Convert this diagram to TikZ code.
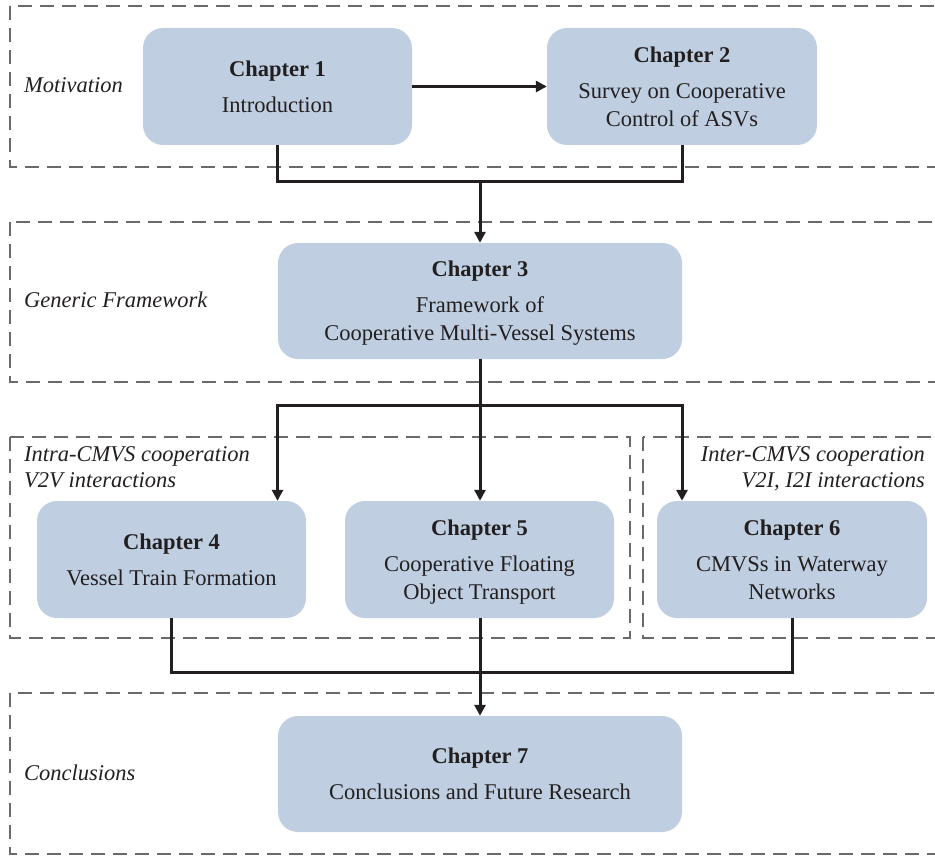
\documentclass[tikz,border=0pt]{standalone}
\usepackage{fontspec}
\setmainfont{Liberation Serif}
\usetikzlibrary{arrows.meta}
\definecolor{boxfill}{HTML}{BFCFE1}
\definecolor{ink}{HTML}{231F20}
\definecolor{dashgray}{HTML}{6A6A6A}
\begin{document}
\begin{tikzpicture}[x=1pt,y=-1pt,
  every node/.style={text=ink, font=\fontsize{22.5}{28}\selectfont},
  chapbox/.style={fill=boxfill, draw=none, rounded corners=20pt, align=center,
    inner sep=0pt, text depth=0pt},
  group/.style={draw=dashgray, line width=1.1pt, dash pattern=on 14pt off 8pt},
  lbl/.style={font=\fontsize{22.5}{28}\selectfont\itshape, inner sep=0pt},
  conn/.style={draw=ink, line width=3pt},
  arr/.style={conn, -{Triangle[length=11pt,width=11pt]}}
]
\useasboundingbox (0,0) rectangle (935,856);
\clip (0,0) rectangle (935,856);

% group frames
\draw[group] (10,6) rectangle (960,167);
\draw[group] (10,222) rectangle (960,382);
\draw[group] (10,437) rectangle (630,638);
\draw[group] (643,437) rectangle (960,638);
\draw[group] (10,693) rectangle (960,854);

% group labels
\node[lbl, anchor=base west] (lmot) at (24,93) {Motivation};
\node[lbl, anchor=base west] (lgen) at (24,307) {Generic Framework};
\node[lbl, anchor=base west] (lintraA) at (24,461) {Intra-CMVS cooperation};
\node[lbl, anchor=base west] (lintraB) at (24,487) {V2V interactions};
\node[lbl, anchor=base east] (linterA) at (925,461) {Inter-CMVS cooperation};
\node[lbl, anchor=base east] (linterB) at (925,487) {V2I, I2I interactions};
\node[lbl, anchor=base west] (lcon) at (24,780) {Conclusions};

% chapter boxes
\node[chapbox, minimum width=269pt, minimum height=117pt] (ch1) at (277.5,86.5)
  {\textbf{Chapter 1}\\[8pt]Introduction};
\node[chapbox, minimum width=270pt, minimum height=117pt] (ch2) at (682,86.5)
  {\textbf{Chapter 2}\\[8pt]Survey on Cooperative\\Control of ASVs};
\node[chapbox, minimum width=404pt, minimum height=116pt] (ch3) at (480,301)
  {\textbf{Chapter 3}\\[8pt]Framework of\\Cooperative Multi-Vessel Systems};
\node[chapbox, minimum width=269pt, minimum height=117pt] (ch4) at (171.5,559.5)
  {\textbf{Chapter 4}\\[8pt]Vessel Train Formation};
\node[chapbox, minimum width=269pt, minimum height=117pt] (ch5) at (479.5,559.5)
  {\textbf{Chapter 5}\\[8pt]Cooperative Floating\\Object Transport};
\node[chapbox, minimum width=270pt, minimum height=117pt] (ch6) at (792,559.5)
  {\textbf{Chapter 6}\\[8pt]CMVSs in Waterway\\Networks};
\node[chapbox, minimum width=404pt, minimum height=116pt] (ch7) at (480,774)
  {\textbf{Chapter 7}\\[8pt]Conclusions and Future Research};

% junctions
\coordinate (j1) at (480,182);
\coordinate (j2) at (480,405);
\coordinate (j3) at (480,672);

% connectors
\draw[arr] (ch1.east) -- (ch2.west);
\draw[conn] (ch1.south) |- (j1) -| (ch2.south);
\draw[arr] (j1) -- (ch3.north);
\draw[conn] (ch3.south) -- (j2);
\draw[arr] (j2) -| (ch1.south |- ch4.north);
\draw[arr] (j2) -| (ch2.south |- ch6.north);
\draw[arr] (j2) -- (ch5.north -| j2);
\draw[conn] (ch4.south) |- (j3) -| (ch6.south);
\draw[conn] (ch5.south -| j3) -- (j3);
\draw[arr] (j3) -- (ch7.north);
\end{tikzpicture}
\end{document}
